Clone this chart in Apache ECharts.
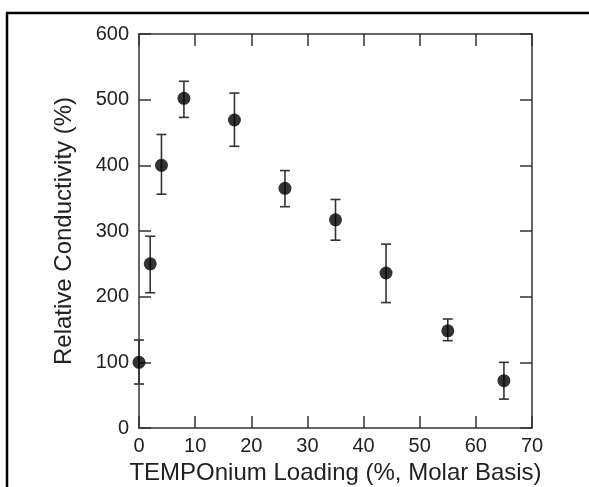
<!DOCTYPE html>
<html>
<head>
<meta charset="utf-8">
<script src="https://cdn.jsdelivr.net/npm/echarts@6/dist/echarts.min.js"></script>
<style>
html,body{margin:0;padding:0;background:#fff;}
#chart{width:589px;height:487px;}
</style>
</head>
<body>
<div id="chart"></div>
<script>
// Data
const loading = [0, 2, 4, 8, 17, 26, 35, 44, 55, 65];
const conductivity = [100, 250, 400, 502, 469, 365, 317, 236, 148, 72];
const errHigh = [134, 292, 447, 528, 510, 392, 348, 280, 166, 100];
const errLow = [67, 206, 356, 473, 429, 337, 286, 191, 133, 44];
const xTitle = 'TEMPOnium Loading (%, Molar Basis)';
const yTitle = 'Relative Conductivity (%)';

const points = loading.map((x, i) => [x, conductivity[i]]);
const bars = loading.map((x, i) => [x, errLow[i], errHigh[i]]);

const FONT = 'Liberation Sans, Arial, sans-serif';
const AX = '#333';
function axisCommon() {
  return {
    axisLine: { show: true, onZero: false, lineStyle: { color: AX, width: 1.5 } },
    axisTick: { show: true, inside: true, length: 12, lineStyle: { color: AX, width: 1.5 } },
    splitLine: { show: false }
  };
}

const chart = echarts.init(document.getElementById('chart'), null, { renderer: 'canvas' });
chart.setOption({
  animation: false,
  backgroundColor: '#fff',
  grid: { left: 139, right: 57, top: 34, bottom: 59, containLabel: false, outerBoundsMode: 'none' },
  xAxis: [
    Object.assign({
      type: 'value', min: 0, max: 70, interval: 10, position: 'bottom',
      name: xTitle, nameLocation: 'middle', nameGap: 33,
      nameTextStyle: { fontFamily: FONT, fontSize: 24, color: '#222' },
      axisLabel: { fontFamily: FONT, fontSize: 20, color: '#222', margin: 8 }
    }, axisCommon()),
    Object.assign({
      type: 'value', min: 0, max: 70, interval: 10, position: 'top',
      axisLabel: { show: false }
    }, axisCommon())
  ],
  yAxis: [
    Object.assign({
      type: 'value', min: 0, max: 600, interval: 100, position: 'left',
      name: yTitle, nameLocation: 'middle', nameGap: 63,
      nameTextStyle: { fontFamily: FONT, fontSize: 24, color: '#222' },
      axisLabel: { fontFamily: FONT, fontSize: 20, color: '#222', margin: 10 }
    }, axisCommon()),
    Object.assign({
      type: 'value', min: 0, max: 600, interval: 100, position: 'right',
      axisLabel: { show: false }
    }, axisCommon())
  ],
  graphic: [
    { type: 'line', shape: { x1: 6, y1: 13, x2: 589, y2: 13 }, style: { stroke: '#000', lineWidth: 2.5 } },
    { type: 'line', shape: { x1: 7, y1: 13, x2: 7, y2: 487 }, style: { stroke: '#000', lineWidth: 2.5 } }
  ],
  series: [
    {
      type: 'custom',
      clip: false,
      data: bars,
      renderItem: function (params, api) {
        const x = api.value(0);
        const lo = api.coord([x, api.value(1)]);
        const hi = api.coord([x, api.value(2)]);
        const hw = 5;
        const st = { stroke: '#333', lineWidth: 1.6 };
        return {
          type: 'group',
          children: [
            { type: 'line', shape: { x1: lo[0], y1: lo[1], x2: hi[0], y2: hi[1] }, style: st },
            { type: 'line', shape: { x1: lo[0] - hw, y1: lo[1], x2: lo[0] + hw, y2: lo[1] }, style: st },
            { type: 'line', shape: { x1: hi[0] - hw, y1: hi[1], x2: hi[0] + hw, y2: hi[1] }, style: st }
          ]
        };
      },
      z: 2
    },
    {
      type: 'scatter',
      data: points,
      symbol: 'circle',
      symbolSize: 13,
      clip: false,
      itemStyle: { color: '#000' },
      z: 3
    }
  ]
});
</script>
</body>
</html>
